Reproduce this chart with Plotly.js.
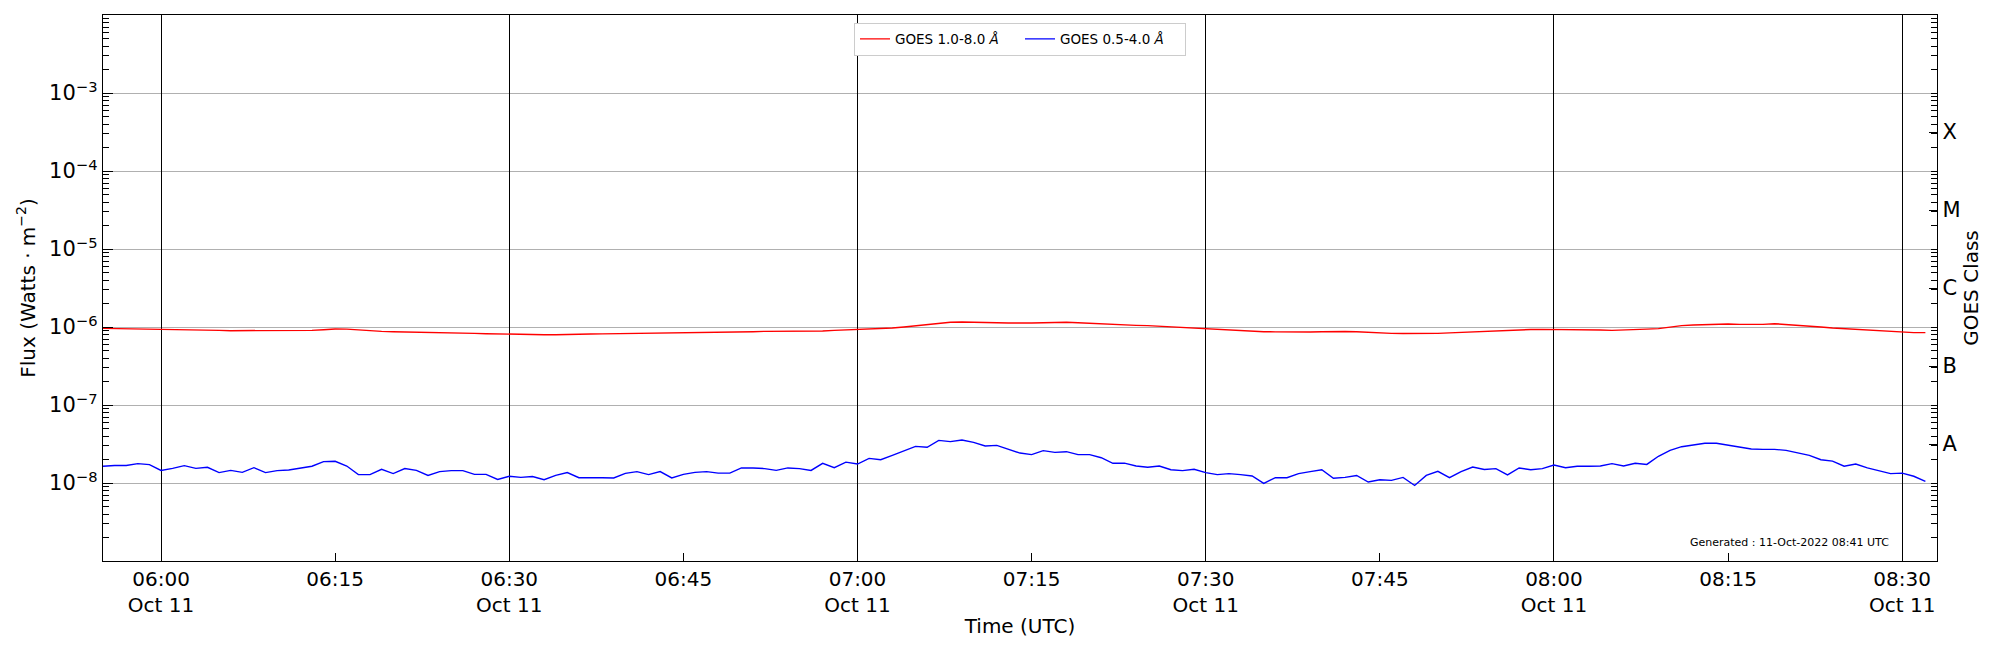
<!DOCTYPE html>
<html>
<head>
<meta charset="utf-8">
<script src="https://cdn.plot.ly/plotly-3.0.1.min.js"></script>
<style>
  html, body { margin: 0; padding: 0; background: #fff; }
  #chart { width: 2000px; height: 650px; }
</style>
</head>
<body>
<div id="chart"></div>
<script>
// GOES XRS 1-minute data, 11 Oct 2022, starting 05:55 UTC
const startTime = "2022-10-11T05:55:00Z";
const cadenceMin = 1;

// 1.0-8.0 A channel (W m^-2)
const xrsLong = [
  9.61e-7, 9.57e-7, 9.52e-7, 9.47e-7, 9.43e-7, 9.33e-7, 9.29e-7, 9.24e-7, 9.24e-7, 9.15e-7,
  9.06e-7, 8.97e-7, 8.97e-7, 8.97e-7, 8.97e-7, 8.97e-7, 8.97e-7, 9.02e-7, 9.06e-7, 9.24e-7,
  9.43e-7, 9.38e-7, 9.15e-7, 8.97e-7, 8.80e-7, 8.71e-7, 8.67e-7, 8.63e-7, 8.54e-7, 8.50e-7,
  8.46e-7, 8.38e-7, 8.29e-7, 8.21e-7, 8.13e-7, 8.05e-7, 8.01e-7, 7.97e-7, 7.97e-7, 7.97e-7,
  7.97e-7, 8.05e-7, 8.13e-7, 8.17e-7, 8.21e-7, 8.21e-7, 8.21e-7, 8.21e-7, 8.21e-7, 8.29e-7,
  8.34e-7, 8.38e-7, 8.42e-7, 8.46e-7, 8.54e-7, 8.63e-7, 8.71e-7, 8.80e-7, 8.80e-7, 8.76e-7,
  8.71e-7, 8.71e-7, 8.89e-7, 9.06e-7, 9.15e-7, 9.24e-7, 9.33e-7, 9.43e-7, 9.71e-7, 1.000e-6,
  1.040e-6, 1.071e-6, 1.114e-6, 1.148e-6, 1.159e-6, 1.159e-6, 1.148e-6, 1.136e-6, 1.125e-6, 1.114e-6,
  1.125e-6, 1.136e-6, 1.148e-6, 1.148e-6, 1.136e-6, 1.114e-6, 1.103e-6, 1.093e-6, 1.071e-6, 1.050e-6,
  1.040e-6, 1.020e-6, 1.000e-6, 9.80e-7, 9.61e-7, 9.43e-7, 9.24e-7, 9.06e-7, 8.97e-7, 8.80e-7,
  8.71e-7, 8.67e-7, 8.63e-7, 8.63e-7, 8.63e-7, 8.71e-7, 8.80e-7, 8.76e-7, 8.71e-7, 8.54e-7,
  8.42e-7, 8.29e-7, 8.25e-7, 8.21e-7, 8.21e-7, 8.29e-7, 8.42e-7, 8.54e-7, 8.80e-7, 8.97e-7,
  9.06e-7, 9.15e-7, 9.24e-7, 9.29e-7, 9.33e-7, 9.33e-7, 9.33e-7, 9.33e-7, 9.24e-7, 9.15e-7,
  9.06e-7, 9.11e-7, 9.24e-7, 9.38e-7, 9.52e-7, 1.000e-6, 1.040e-6, 1.061e-6, 1.077e-6, 1.087e-6,
  1.093e-6, 1.082e-6, 1.071e-6, 1.082e-6, 1.103e-6, 1.082e-6, 1.050e-6, 1.030e-6, 1.000e-6, 9.71e-7,
  9.52e-7, 9.29e-7, 9.06e-7, 8.89e-7, 8.71e-7, 8.54e-7, 8.46e-7, 8.46e-7
];

// 0.5-4.0 A channel (W m^-2)
const xrsShort = [
  1.64e-8, 1.68e-8, 1.68e-8, 1.77e-8, 1.72e-8, 1.45e-8, 1.54e-8, 1.67e-8, 1.54e-8, 1.59e-8,
  1.36e-8, 1.45e-8, 1.37e-8, 1.57e-8, 1.36e-8, 1.44e-8, 1.47e-8, 1.54e-8, 1.64e-8, 1.88e-8,
  1.90e-8, 1.65e-8, 1.28e-8, 1.28e-8, 1.50e-8, 1.32e-8, 1.53e-8, 1.45e-8, 1.25e-8, 1.40e-8,
  1.44e-8, 1.44e-8, 1.29e-8, 1.29e-8, 1.11e-8, 1.22e-8, 1.18e-8, 1.21e-8, 1.10e-8, 1.25e-8,
  1.36e-8, 1.17e-8, 1.18e-8, 1.17e-8, 1.16e-8, 1.33e-8, 1.40e-8, 1.28e-8, 1.40e-8, 1.16e-8,
  1.29e-8, 1.37e-8, 1.40e-8, 1.34e-8, 1.34e-8, 1.56e-8, 1.56e-8, 1.53e-8, 1.45e-8, 1.56e-8,
  1.53e-8, 1.45e-8, 1.79e-8, 1.57e-8, 1.85e-8, 1.75e-8, 2.07e-8, 1.99e-8, 2.26e-8, 2.60e-8,
  2.95e-8, 2.87e-8, 3.52e-8, 3.39e-8, 3.56e-8, 3.32e-8, 2.98e-8, 3.04e-8, 2.70e-8, 2.42e-8,
  2.31e-8, 2.60e-8, 2.47e-8, 2.52e-8, 2.31e-8, 2.31e-8, 2.11e-8, 1.79e-8, 1.80e-8, 1.65e-8,
  1.59e-8, 1.65e-8, 1.48e-8, 1.44e-8, 1.50e-8, 1.36e-8, 1.28e-8, 1.32e-8, 1.28e-8, 1.23e-8,
  0.99e-8, 1.17e-8, 1.17e-8, 1.32e-8, 1.40e-8, 1.48e-8, 1.15e-8, 1.18e-8, 1.25e-8, 1.03e-8,
  1.10e-8, 1.08e-8, 1.18e-8, 0.93e-8, 1.25e-8, 1.41e-8, 1.17e-8, 1.40e-8, 1.60e-8, 1.49e-8,
  1.53e-8, 1.27e-8, 1.56e-8, 1.48e-8, 1.53e-8, 1.70e-8, 1.57e-8, 1.64e-8, 1.64e-8, 1.65e-8,
  1.77e-8, 1.65e-8, 1.79e-8, 1.73e-8, 2.20e-8, 2.62e-8, 2.92e-8, 3.04e-8, 3.23e-8, 3.23e-8,
  3.07e-8, 2.92e-8, 2.73e-8, 2.70e-8, 2.70e-8, 2.62e-8, 2.45e-8, 2.26e-8, 1.99e-8, 1.91e-8,
  1.64e-8, 1.75e-8, 1.56e-8, 1.43e-8, 1.32e-8, 1.34e-8, 1.22e-8, 1.05e-8
];

const timeRange = ["2022-10-11 05:55:00", "2022-10-11 08:33:00"];

const xTickVals = [
  "2022-10-11 06:00", "2022-10-11 06:15", "2022-10-11 06:30", "2022-10-11 06:45",
  "2022-10-11 07:00", "2022-10-11 07:15", "2022-10-11 07:30", "2022-10-11 07:45",
  "2022-10-11 08:00", "2022-10-11 08:15", "2022-10-11 08:30"
];
const xTickText = [
  "06:00<br>Oct 11", "06:15", "06:30<br>Oct 11", "06:45",
  "07:00<br>Oct 11", "07:15", "07:30<br>Oct 11", "07:45",
  "08:00<br>Oct 11", "08:15", "08:30<br>Oct 11"
];
const xGridVals = [
  "2022-10-11 06:00", "2022-10-11 06:30", "2022-10-11 07:00",
  "2022-10-11 07:30", "2022-10-11 08:00", "2022-10-11 08:30"
];

const fluxTickVals = [1e-8, 1e-7, 1e-6, 1e-5, 1e-4, 1e-3];
const fluxTickText = ["10<sup>−8</sup>", "10<sup>−7</sup>", "10<sup>−6</sup>",
                      "10<sup>−5</sup>", "10<sup>−4</sup>", "10<sup>−3</sup>"];

const classNames = ["A", "B", "C", "M", "X"];
const classExp = [-7.5, -6.5, -5.5, -4.5, -3.5];

// time axis from the 1-minute cadence
const t0 = Date.parse(startTime);
const times = xrsLong.map((_, i) =>
  new Date(t0 + i * cadenceMin * 60000).toISOString().replace("T", " ").slice(0, 19));

// log minor ticks 1..9 per decade
const logTicks = [];
for (let e = -9; e < -2; e++) {
  for (let k = 1; k <= 9; k++) logTicks.push(k * Math.pow(10, e));
}

const FONT = "DejaVu Sans, Verdana, sans-serif";

// blue goes on the overlay pair (x2: 30-min grid, y2: GOES class) so that
// both overlay axes get drawn; their ranges equal the main ones
const traces = [
  {
    x: times, y: xrsLong, type: "scatter", mode: "lines",
    xaxis: "x", yaxis: "y",
    name: "GOES 1.0-8.0 <i>Å</i>",
    line: { color: "#ff0000", width: 1.4 }
  },
  {
    x: times, y: xrsShort, type: "scatter", mode: "lines",
    xaxis: "x2", yaxis: "y2",
    name: "GOES 0.5-4.0 <i>Å</i>",
    line: { color: "#0000ff", width: 1.4 }
  }
];

const layout = {
  width: 2000,
  height: 650,
  margin: { l: 103, r: 63, t: 15, b: 89 },
  paper_bgcolor: "#fff",
  plot_bgcolor: "#fff",
  font: { family: FONT, color: "#000", size: 20 },
  showlegend: true,
  legend: {
    orientation: "h",
    x: 0.5, xanchor: "center",
    y: 0.986, yanchor: "top",
    bgcolor: "#fff",
    bordercolor: "#cccccc",
    borderwidth: 1,
    font: { family: FONT, size: 13.5, color: "#000" },
    itemwidth: 30,
    entrywidth: 120,
    traceorder: "normal"
  },
  xaxis: {
    type: "date",
    range: timeRange,
    tickmode: "array",
    tickvals: xTickVals,
    ticktext: xTickText,
    ticks: "inside",
    ticklen: 8,
    tickcolor: "#000",
    tickwidth: 1,
    tickfont: { size: 20 },
    showgrid: false,
    zeroline: false,
    showline: true,
    mirror: true,
    linecolor: "#000",
    linewidth: 1.3,
    title: { text: "Time (UTC)", font: { size: 20 }, standoff: 2 },
    automargin: false
  },
  xaxis2: {
    type: "date",
    overlaying: "x",
    anchor: "y2",
    side: "bottom",
    range: timeRange,
    tickmode: "array",
    tickvals: xGridVals,
    showticklabels: false,
    ticks: "",
    showgrid: true,
    gridcolor: "#000",
    gridwidth: 1,
    showline: false,
    zeroline: false
  },
  yaxis: {
    type: "log",
    range: [-9, -2],
    tickmode: "array",
    tickvals: fluxTickVals,
    ticktext: fluxTickText,
    ticks: "inside",
    ticklen: 10,
    tickcolor: "#000",
    tickfont: { size: 21 },
    showgrid: true,
    gridcolor: "#b0b0b0",
    gridwidth: 1,
    minor: { tickmode: "array", tickvals: logTicks, ticks: "inside", ticklen: 6, tickcolor: "#000", showgrid: false },
    zeroline: false,
    showline: true,
    mirror: true,
    linecolor: "#000",
    linewidth: 1.3,
    title: { text: "Flux (Watts · m<sup>−2</sup>)", font: { size: 20 }, standoff: 8 },
    automargin: false
  },
  yaxis2: {
    type: "log",
    overlaying: "y",
    side: "right",
    anchor: "x2",
    range: [-9, -2],
    tickmode: "array",
    tickvals: classExp.map(e => Math.pow(10, e)),
    ticktext: classNames,
    ticks: "inside",
    ticklen: 8,
    tickcolor: "#000",
    tickfont: { size: 21 },
    showgrid: false,
    minor: { tickmode: "array", tickvals: logTicks, ticks: "inside", ticklen: 6, tickcolor: "#000", showgrid: false },
    zeroline: false,
    showline: true,
    linecolor: "#000",
    linewidth: 1.3,
    title: { text: "GOES Class", font: { size: 20 }, standoff: 4 },
    automargin: false
  },
  annotations: [
    {
      text: "Generated : 11-Oct-2022 08:41 UTC",
      xref: "paper", yref: "paper",
      x: 0.975, xanchor: "right",
      y: 0.033, yanchor: "middle",
      showarrow: false,
      font: { family: FONT, size: 11, color: "#000" }
    }
  ]
};

Plotly.newPlot("chart", traces, layout, { staticPlot: true, displayModeBar: false });
</script>
</body>
</html>
